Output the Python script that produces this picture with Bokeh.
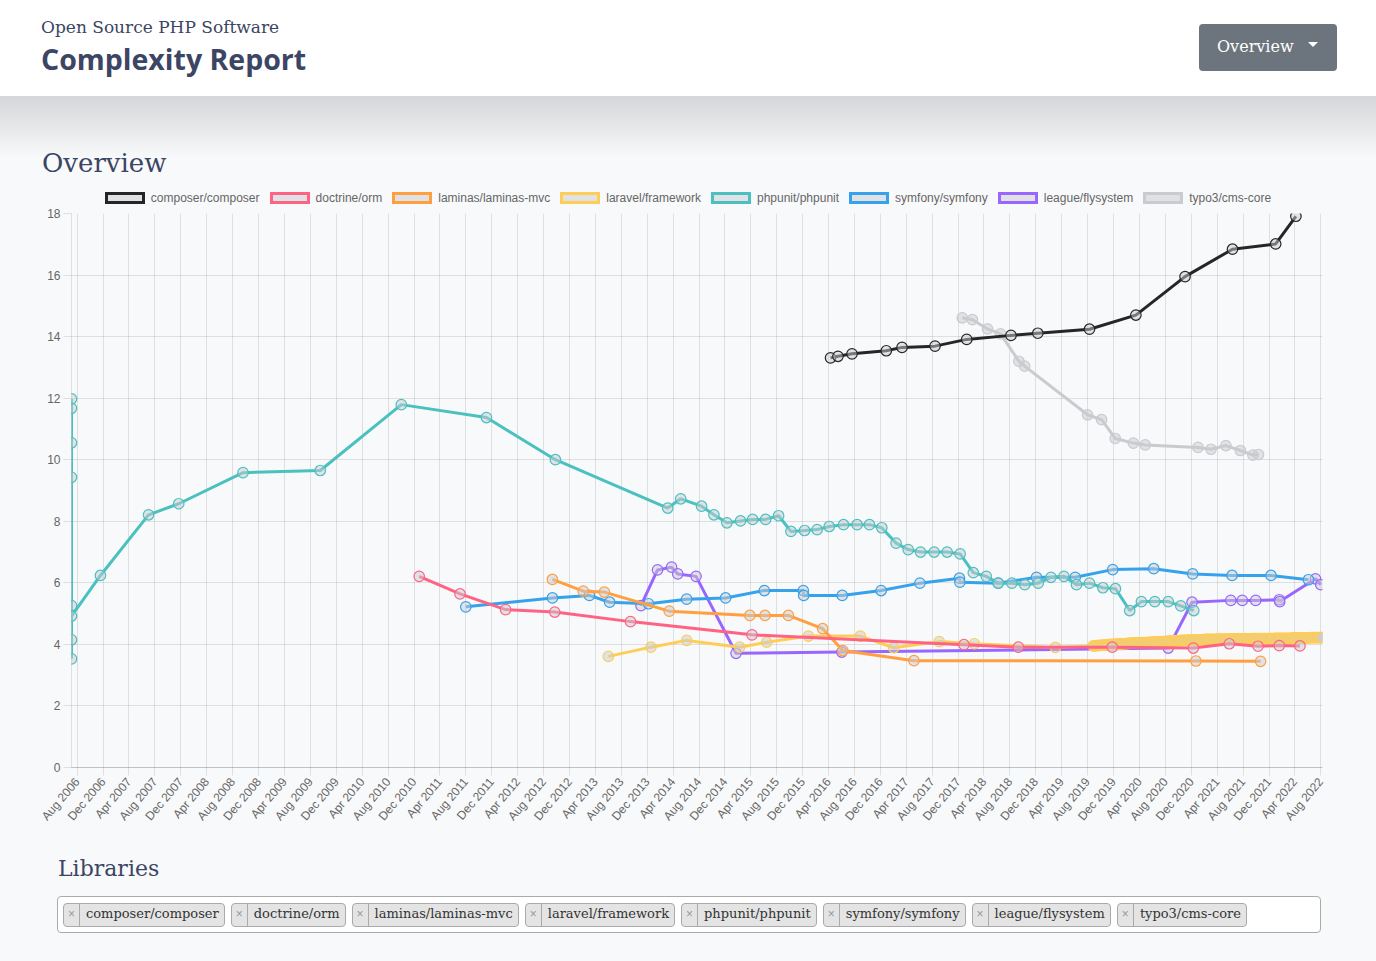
import pandas as pd
from bokeh.plotting import figure
from bokeh.models import (Div, ColumnDataSource, MonthsTicker, DatetimeTickFormatter,
                          SingleIntervalTicker, Range1d)
from bokeh.layouts import column
from bokeh.embed import file_html
from bokeh.resources import INLINE

# ---------------- data ----------------
libraries = ["composer/composer", "doctrine/orm", "laminas/laminas-mvc", "laravel/framework",
             "phpunit/phpunit", "symfony/symfony", "league/flysystem", "typo3/cms-core"]
colors = ["#262626", "#ff6384", "#ff9f40", "#ffcd56", "#4bc0c0", "#36a2eb", "#9966ff", "#c9cbcf"]

composer_dates = ["2016-04-10", "2016-05-15", "2016-07-20", "2016-12-28", "2017-03-12", "2017-08-14",
                  "2018-01-10", "2018-08-06", "2018-12-10", "2019-08-10", "2020-03-15", "2020-11-01",
                  "2021-06-12", "2022-01-01", "2022-04-06"]
composer_values = [13.31, 13.36, 13.44, 13.54, 13.65, 13.69, 13.91, 14.04, 14.11, 14.24, 14.70, 15.95,
                   16.84, 17.01, 17.91]

doctrine_dates = ["2010-12-25", "2011-07-05", "2012-02-04", "2012-09-22", "2013-09-13", "2015-04-07",
                  "2017-12-28", "2018-09-10", "2019-11-25", "2020-12-10", "2021-05-28", "2021-10-10",
                  "2022-01-18", "2022-04-25"]
doctrine_values = [6.21, 5.64, 5.13, 5.05, 4.74, 4.31, 3.99, 3.91, 3.91, 3.88, 4.02, 3.94, 3.96, 3.95]

laminas_dates = ["2012-09-11", "2013-02-03", "2013-05-13", "2014-03-14", "2015-03-28", "2015-06-07",
                 "2015-09-25", "2016-03-04", "2016-06-07", "2017-05-07", "2020-12-22", "2021-10-22"]
laminas_values = [6.11, 5.73, 5.70, 5.08, 4.94, 4.94, 4.94, 4.51, 3.80, 3.47, 3.46, 3.45]

laravel_dates = ["2013-06-01", "2013-12-18", "2014-06-04", "2015-02-08", "2015-06-15", "2015-12-28",
                 "2016-08-28", "2017-02-01", "2017-09-03", "2018-02-15", "2019-03-03",
                 "2019-08-27", "2019-09-03", "2019-09-10", "2019-09-17", "2019-09-24", "2019-10-01",
                 "2019-10-08", "2019-10-15", "2019-10-22", "2019-10-29", "2019-11-05", "2019-11-12",
                 "2019-11-19", "2019-11-26", "2019-12-03", "2019-12-10", "2019-12-17", "2019-12-24",
                 "2019-12-31",
                 "2020-01-07", "2020-01-14", "2020-01-21", "2020-01-28", "2020-02-04", "2020-02-11",
                 "2020-02-18", "2020-02-25", "2020-03-03", "2020-03-10", "2020-03-17", "2020-03-24",
                 "2020-03-31", "2020-04-07", "2020-04-14", "2020-04-21", "2020-04-28", "2020-05-05",
                 "2020-05-12", "2020-05-19", "2020-05-26", "2020-06-02", "2020-06-09", "2020-06-16",
                 "2020-06-23", "2020-06-30", "2020-07-07", "2020-07-14", "2020-07-21", "2020-07-28",
                 "2020-08-04", "2020-08-11", "2020-08-18", "2020-08-25", "2020-09-01", "2020-09-08",
                 "2020-09-15", "2020-09-22", "2020-09-29", "2020-10-06", "2020-10-13", "2020-10-20",
                 "2020-10-27", "2020-11-03", "2020-11-10", "2020-11-17", "2020-11-24", "2020-12-01",
                 "2020-12-08", "2020-12-15", "2020-12-22", "2020-12-29",
                 "2021-01-05", "2021-01-12", "2021-01-19", "2021-01-26", "2021-02-02", "2021-02-09",
                 "2021-02-16", "2021-02-23", "2021-03-02", "2021-03-09", "2021-03-16", "2021-03-23",
                 "2021-03-30", "2021-04-06", "2021-04-13", "2021-04-20", "2021-04-27", "2021-05-04",
                 "2021-05-11", "2021-05-18", "2021-05-25", "2021-06-01", "2021-06-08", "2021-06-15",
                 "2021-06-22", "2021-06-29", "2021-07-06", "2021-07-13", "2021-07-20", "2021-07-27",
                 "2021-08-03", "2021-08-10", "2021-08-17", "2021-08-24", "2021-08-31", "2021-09-07",
                 "2021-09-14", "2021-09-21", "2021-09-28", "2021-10-05", "2021-10-12", "2021-10-19",
                 "2021-10-26", "2021-11-02", "2021-11-09", "2021-11-16", "2021-11-23", "2021-11-30",
                 "2021-12-07", "2021-12-14", "2021-12-21", "2021-12-28",
                 "2022-01-04", "2022-01-11", "2022-01-18", "2022-01-25", "2022-02-01", "2022-02-08",
                 "2022-02-15", "2022-02-22", "2022-03-01", "2022-03-08", "2022-03-15", "2022-03-22",
                 "2022-03-29", "2022-04-05", "2022-04-12", "2022-04-19", "2022-04-26", "2022-05-03",
                 "2022-05-10", "2022-05-17", "2022-05-24", "2022-05-31", "2022-06-07", "2022-06-14",
                 "2022-06-21", "2022-06-28", "2022-07-05", "2022-07-12", "2022-07-19", "2022-07-26",
                 "2022-08-02", "2022-08-09"]
laravel_values = [3.61, 3.91, 4.13, 3.91, 4.07, 4.27, 4.27, 3.89, 4.09, 4.02, 3.90,
                  3.95, 3.95, 3.96, 3.96, 3.97, 3.97, 3.97, 3.98, 3.98, 3.98, 3.99, 3.99,
                  4.00, 4.00, 4.00, 4.00, 4.01, 4.01, 4.01,
                  4.02, 4.02, 4.02, 4.02, 4.03, 4.03, 4.04, 4.04, 4.04, 4.04, 4.05, 4.05,
                  4.05, 4.05, 4.06, 4.06, 4.06, 4.06, 4.07, 4.07, 4.07, 4.07, 4.08, 4.08,
                  4.08, 4.08, 4.09, 4.09, 4.09, 4.09, 4.10, 4.10, 4.11, 4.11, 4.11, 4.11,
                  4.12, 4.12, 4.12, 4.12, 4.13, 4.13, 4.13, 4.13, 4.14, 4.14, 4.14, 4.14,
                  4.14, 4.14, 4.15, 4.15,
                  4.15, 4.15, 4.15, 4.15, 4.16, 4.16, 4.16, 4.16, 4.16, 4.16, 4.16, 4.16,
                  4.17, 4.17, 4.17, 4.17, 4.17, 4.17, 4.17, 4.17, 4.17, 4.17, 4.18, 4.18,
                  4.18, 4.18, 4.18, 4.18, 4.18, 4.18, 4.18, 4.18, 4.18, 4.18, 4.18, 4.18,
                  4.19, 4.19, 4.19, 4.19, 4.19, 4.19, 4.19, 4.19, 4.19, 4.19, 4.19, 4.19,
                  4.19, 4.19, 4.19, 4.20, 4.20, 4.20,
                  4.20, 4.20, 4.20, 4.20, 4.20, 4.20, 4.20, 4.20, 4.20, 4.21, 4.21, 4.21,
                  4.21, 4.21, 4.21, 4.21, 4.21, 4.21, 4.21, 4.21, 4.21, 4.22, 4.22, 4.22,
                  4.22, 4.22, 4.22, 4.22, 4.22, 4.22, 4.22, 4.22]

phpunit_dates = ["2006-07-05", "2006-07-05", "2006-07-05", "2006-07-05", "2006-07-05", "2006-07-05",
                 "2006-07-05", "2006-07-05",
                 "2006-11-18", "2007-07-02", "2007-11-21", "2008-09-18", "2009-09-16", "2010-10-02",
                 "2011-11-06", "2012-09-25",
                 "2014-03-07", "2014-05-07", "2014-08-13", "2014-10-10", "2014-12-10", "2015-02-12",
                 "2015-04-10", "2015-06-10", "2015-08-10", "2015-10-07", "2015-12-10", "2016-02-07",
                 "2016-04-04", "2016-06-10", "2016-08-13", "2016-10-10", "2016-12-07", "2017-02-12",
                 "2017-04-10", "2017-06-07", "2017-08-10", "2017-10-10", "2017-12-10", "2018-02-10",
                 "2018-04-12", "2018-06-07", "2018-08-10", "2018-10-10", "2018-12-12", "2019-02-10",
                 "2019-04-12", "2019-06-10", "2019-08-10", "2019-10-12", "2019-12-10", "2020-02-15",
                 "2020-04-10", "2020-06-12", "2020-08-14", "2020-10-12", "2020-12-12"]
phpunit_values = [3.53, 4.15, 5.26, 9.43, 10.55, 11.67, 11.98, 4.92,
                  6.24, 8.21, 8.57, 9.58, 9.65, 11.79, 11.37, 10.00,
                  8.43, 8.73, 8.49, 8.21, 7.95, 8.01, 8.06, 8.06, 8.18, 7.67, 7.70, 7.73,
                  7.83, 7.89, 7.89, 7.89, 7.79, 7.29, 7.08, 7.00, 7.00, 7.00, 6.94, 6.33,
                  6.21, 5.99, 5.99, 5.94, 5.99, 6.18, 6.21, 5.94, 5.99, 5.84, 5.81, 5.10,
                  5.39, 5.39, 5.39, 5.25, 5.10]

symfony_dates = ["2011-08-01", "2012-09-11", "2013-03-04", "2013-06-07", "2013-12-07", "2014-06-04",
                 "2014-12-04", "2015-06-04", "2015-12-04", "2015-12-06", "2016-06-04", "2016-12-04",
                 "2017-06-04", "2017-12-07", "2017-12-09", "2018-06-07", "2018-12-04", "2019-06-04",
                 "2019-11-27", "2020-06-07", "2020-12-07", "2021-06-10", "2021-12-10", "2022-06-04"]
symfony_values = [5.22, 5.51, 5.59, 5.37, 5.32, 5.47, 5.51, 5.75, 5.75, 5.59, 5.59, 5.75,
                  5.99, 6.15, 6.02, 5.99, 6.18, 6.18, 6.43, 6.46, 6.29, 6.24, 6.24, 6.10]

league_dates = ["2013-11-01", "2014-01-18", "2014-03-25", "2014-04-23", "2014-07-18", "2015-01-22",
                "2016-06-02", "2020-08-14", "2020-12-04", "2021-06-04", "2021-07-28", "2021-09-29",
                "2022-01-18", "2022-01-20", "2022-07-07", "2022-08-01"]
league_values = [5.26, 6.42, 6.51, 6.29, 6.21, 3.71, 3.75, 3.88, 5.37, 5.43, 5.43, 5.43,
                 5.45, 5.39, 6.13, 5.94]

typo3_dates = ["2017-12-20", "2018-02-06", "2018-04-18", "2018-06-18", "2018-09-12", "2018-10-09",
               "2019-08-01", "2019-10-06", "2019-12-09", "2020-03-03", "2020-04-28", "2021-01-01",
               "2021-03-03", "2021-05-12", "2021-07-19", "2021-09-16", "2021-10-12"]
typo3_values = [14.61, 14.55, 14.25, 14.09, 13.20, 13.04, 11.46, 11.30, 10.69, 10.54, 10.48, 10.40,
                10.34, 10.46, 10.30, 10.15, 10.17]

series_dates = [composer_dates, doctrine_dates, laminas_dates, laravel_dates,
                phpunit_dates, symfony_dates, league_dates, typo3_dates]
series_values = [composer_values, doctrine_values, laminas_values, laravel_values,
                 phpunit_values, symfony_values, league_values, typo3_values]

y_ticks_interval = 2
y_min, y_max = 0, 18

# ---------------- styles ----------------
BG = "#f8f9fa"
NAVY = "#3c4563"
POINT_FILL = "#c9cbcf"

# ---------------- header ----------------
header_html = f"""
<div style="position:relative;width:1376px;height:96px;background:#ffffff;overflow:hidden;">
  <div style="position:absolute;left:41px;top:19px;font-family:'DejaVu Serif';font-size:17px;line-height:17px;color:{NAVY};white-space:nowrap;">Open Source PHP Software</div>
  <div style="position:absolute;left:41px;top:45px;font-family:'Open Sans';font-weight:700;font-size:28.5px;line-height:28px;color:{NAVY};white-space:nowrap;">Complexity Report</div>
  <div style="position:absolute;left:1199px;top:24px;width:138px;height:47px;background:#6c757d;border-radius:4px;"></div>
  <div style="position:absolute;left:1217px;top:39px;font-family:'DejaVu Serif';font-size:16px;line-height:16px;color:#ffffff;white-space:nowrap;">Overview</div>
  <div style="position:absolute;left:1308px;top:42px;width:0;height:0;border-left:5px solid transparent;border-right:5px solid transparent;border-top:5px solid #ffffff;"></div>
</div>
"""
header = Div(text=header_html, width=1376, height=96, margin=0)

legend_items = ""
for name, col in zip(libraries, colors):
    legend_items += (
        f'<div style="display:flex;align-items:center;margin:0 5px;">'
        f'<span style="display:inline-block;box-sizing:border-box;width:40px;height:12px;'
        f'border:3px solid {col};background:#e0e1e4;"></span>'
        f'<span style="margin-left:6px;font-family:\'Liberation Sans\';font-size:12px;line-height:12px;'
        f'color:#666666;white-space:nowrap;">{name}</span></div>'
    )

overview_html = f"""
<div style="position:relative;width:1376px;height:109px;background:linear-gradient(#d4d6d9 0px, {BG} 62px);overflow:hidden;">
  <div style="position:absolute;left:42px;top:54px;font-family:'DejaVu Serif';font-size:26px;line-height:26px;color:{NAVY};white-space:nowrap;">Overview</div>
  <div style="position:absolute;left:0;top:96px;width:1376px;height:12px;display:flex;justify-content:center;align-items:center;">{legend_items}</div>
</div>
"""
overview = Div(text=overview_html, width=1376, height=109, margin=0)

# ---------------- chart ----------------
all_dates = pd.to_datetime([d for ds in series_dates for d in ds])
x_start = all_dates.min().to_pydatetime()
x_end = all_dates.max().to_pydatetime()

p = figure(width=1376, height=635, x_axis_type="datetime",
           x_range=Range1d(x_start, x_end), y_range=Range1d(y_min, y_max),
           output_backend="svg", toolbar_location=None,
           min_border_left=71, min_border_right=54, min_border_top=8, min_border_bottom=73,
           background_fill_color=BG, border_fill_color=BG, outline_line_color=None)

for i in reversed(range(len(libraries))):
    src = ColumnDataSource(dict(x=pd.to_datetime(series_dates[i]), y=series_values[i]))
    p.line("x", "y", source=src, line_color=colors[i], line_width=3)
    p.scatter("x", "y", source=src, size=10.5, fill_color=POINT_FILL, fill_alpha=0.5,
              line_color=colors[i], line_width=1.2)

p.xaxis.ticker = MonthsTicker(months=[3, 7, 11])
p.xaxis.formatter = DatetimeTickFormatter(months="%b %Y", years="%b %Y", days="%b %Y")
p.xaxis.major_label_orientation = 0.87
p.yaxis.ticker = SingleIntervalTicker(interval=y_ticks_interval, num_minor_ticks=0)

for ax in (p.xaxis[0], p.yaxis[0]):
    ax.major_tick_out = 8
    ax.major_tick_in = 0
    ax.major_tick_line_color = "black"
    ax.major_tick_line_alpha = 0.1
    ax.minor_tick_line_color = None
    ax.major_label_text_font = "Liberation Sans"
    ax.major_label_text_font_size = "12px"
    ax.major_label_text_color = "#666666"
    ax.axis_line_color = "black"
p.yaxis.axis_line_alpha = 0.1
p.xaxis.axis_line_alpha = 0.22
p.yaxis.major_label_standoff = 3
p.xaxis.major_label_standoff = 4

for g in (p.xgrid[0], p.ygrid[0]):
    g.grid_line_color = "black"
    g.grid_line_alpha = 0.1

# ---------------- libraries box ----------------
tags = ""
for name in libraries:
    tags += (
        '<span style="display:inline-flex;align-items:stretch;box-sizing:border-box;height:24px;'
        'border:1px solid #aaaaaa;border-radius:4px;background:#e4e4e4;margin-right:6px;">'
        '<span style="display:flex;align-items:center;padding:0 4px;border-right:1px solid #aaaaaa;'
        'font-family:\'Liberation Sans\';font-size:12px;color:#999999;">&times;</span>'
        f'<span style="display:flex;align-items:center;padding:0 5px 0 6px;font-family:\'DejaVu Serif\';'
        f'font-size:13px;color:#333333;white-space:nowrap;">{name}</span></span>'
    )

libs_html = f"""
<div style="position:relative;width:1376px;height:121px;background:{BG};overflow:hidden;">
  <div style="position:absolute;left:58px;top:18px;font-family:'DejaVu Serif';font-size:22px;line-height:22px;color:{NAVY};white-space:nowrap;">Libraries</div>
  <div style="position:absolute;left:57px;top:56px;width:1264px;height:37px;box-sizing:border-box;border:1px solid #aaaaaa;border-radius:4px;background:#ffffff;display:flex;align-items:center;padding-left:5px;">{tags}</div>
</div>
"""
libs = Div(text=libs_html, width=1376, height=121, margin=0)

page = column(header, overview, p, libs, width=1376, height=961,
              styles={"background-color": BG})

open("out.html", "w").write(file_html(page, INLINE))
